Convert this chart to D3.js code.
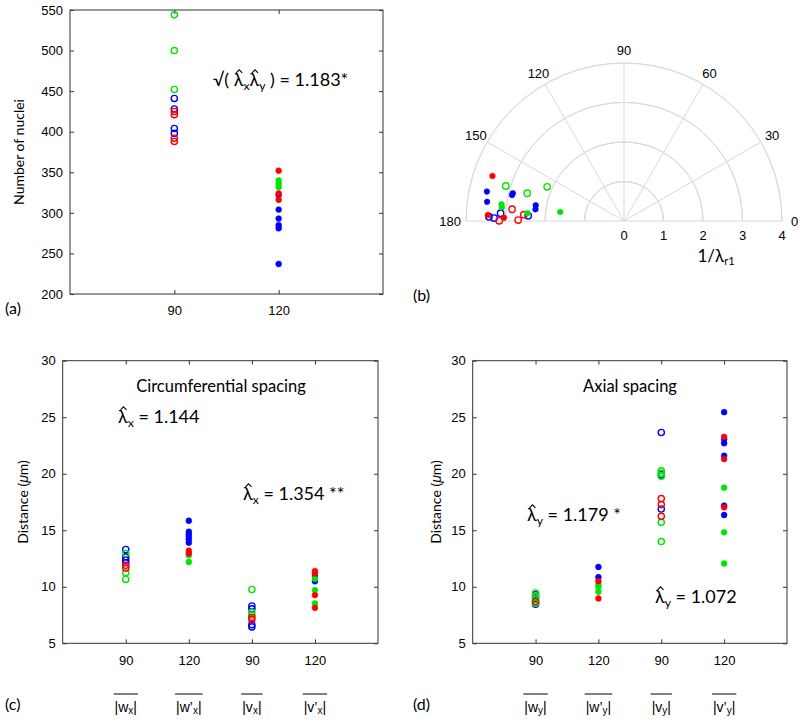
<!DOCTYPE html>
<html><head><meta charset="utf-8">
<script src="https://cdn.jsdelivr.net/npm/d3@7"></script>
<style>body{margin:0;background:#fff}svg{display:block}</style>
</head><body>
<svg id="chart" width="800" height="722"></svg>
<script>
// ---------- DATA ----------
const seriesNames = ["blue", "green", "red"];
// Panel (a): number of nuclei, open = 90, filled = 120
const nucleiCats = [90, 120];
const nucleiTicks = [200, 250, 300, 350, 400, 450, 500, 550];
const nucleiBlue  = [[441, 428, 404, 398], [322, 304, 293, 285, 281, 237]];
const nucleiGreen = [[544, 500, 452], [340, 336, 332]];
const nucleiRed   = [[425, 421, 392, 388], [352, 324, 316]];

// Panel (b): polar [angle deg, 1/lambda_r1]
const polarOpenBlue   = [[178.2, 3.42], [178.7, 3.29], [176.4, 3.13], [176.8, 2.43]];
const polarOpenGreen  = [[163.5, 3.12], [164.0, 2.55], [156.0, 2.13]];
const polarOpenRed    = [[174.0, 2.85], [179.9, 3.16], [179.5, 2.68], [176.4, 2.54]];
const polarFillBlue   = [[167.9, 3.55], [172.0, 3.50], [166.9, 2.91], [166.0, 2.90], [169.9, 2.27], [172.5, 2.26]];
const polarFillGreen  = [[172.0, 1.63], [173.6, 3.11], [172.2, 3.13], [175.4, 2.45]];
const polarFillRed    = [[161.1, 3.52], [177.5, 3.45], [178.4, 3.04]];
const polarAngles = [0, 30, 60, 90, 120, 150, 180];
const polarRadii = [0, 1, 2, 3, 4];

// Panels (c), (d): spacing; categories 1..4
const spacingTickLabels = [90, 120, 90, 120];
const spacingOpen = [true, false, true, false];
const spacingYTicks = [5, 10, 15, 20, 25, 30];
const circLabels = [["w", "x", ""], ["w", "x", "’"], ["v", "x", ""], ["v", "x", "’"]];
const axLabels   = [["w", "y", ""], ["w", "y", "’"], ["v", "y", ""], ["v", "y", "’"]];
const circBlue  = [[13.3, 12.65, 12.36, 12.12], [15.84, 14.87, 14.64, 14.43, 14.2, 13.9], [8.3, 8.05, 6.65, 6.45], [10.95, 10.48]];
const circGreen = [[12.95, 11.24, 10.65], [12.78, 12.19], [9.76, 7.75, 7.5], [10.71, 9.71, 8.53]];
const circRed   = [[11.9, 11.65], [13.19, 12.95], [7.3, 7.1], [11.39, 11.19, 9.27, 8.14]];
const axBlue  = [[9.3, 9.0, 8.45], [11.75, 10.85], [23.65, 19.91, 16.88], [25.45, 23.06, 22.7, 21.59, 17.18, 16.35]];
const axGreen = [[9.45, 9.15, 8.85, 8.6, 8.55], [10.2, 10.0, 9.56], [20.26, 20.06, 19.77, 15.7, 14.0], [18.77, 14.82, 12.06]];
const axRed   = [[8.7], [10.5, 8.97], [17.8, 17.27, 16.23], [23.27, 21.3, 17.03]];

// ---------- STYLE ----------
const COL = {blue: "#0000ff", green: "#00e600", red: "#ff0000"};
const TICKFONT = "'Liberation Sans', Arial, sans-serif";
const TEXTFONT = "Lato, 'Open Sans', sans-serif";
const svg = d3.select("#chart");

function frameAxes(g, x, y, xTicks, xFmt, yTicks) {
  const [x0, x1] = x.range(), [y0, y1] = y.range();
  g.append("g").attr("transform", `translate(0,${y0})`)
    .call(d3.axisBottom(x).tickValues(xTicks).tickFormat(xFmt).tickSizeInner(-4).tickSizeOuter(0).tickPadding(12));
  g.append("g").attr("transform", `translate(0,${y1})`)
    .call(d3.axisTop(x).tickValues(xTicks).tickFormat("").tickSizeInner(-4).tickSizeOuter(0));
  g.append("g").attr("transform", `translate(${x0},0)`)
    .call(d3.axisLeft(y).tickValues(yTicks).tickSizeInner(-4).tickSizeOuter(0).tickPadding(7));
  g.append("g").attr("transform", `translate(${x1},0)`)
    .call(d3.axisRight(y).tickValues(yTicks).tickFormat("").tickSizeInner(-4).tickSizeOuter(0));
  g.selectAll(".domain").remove();
  g.selectAll(".tick text").filter(function() { return !this.textContent; }).remove();
  g.selectAll(".tick line").attr("stroke", "#333");
  g.selectAll(".tick text").attr("font-family", TICKFONT).attr("font-size", 13).attr("fill", "#000");
  g.append("rect").attr("x", x0).attr("y", y1).attr("width", x1 - x0).attr("height", y0 - y1)
    .attr("fill", "none").attr("stroke", "#333").attr("stroke-width", 1);
}

function dots(g, cx, cy, vals, color, open, r) {
  g.selectAll(null).data(vals).enter().append("circle")
    .attr("cx", cx).attr("cy", d => cy(d)).attr("r", open ? r : r - 0.2)
    .attr("fill", open ? "none" : color).attr("stroke", color).attr("stroke-width", open ? 1.4 : 0.6);
}

// lambda with a drawn hat; hats are added after layout
const hatQueue = [];
function lambdaHat(g, t, sub, size, baseY, dy0) {
  const l = t.append("tspan").attr("dy", dy0).text("λ");
  t.append("tspan").attr("font-size", size * 0.68).attr("dy", 4).text(sub);
  hatQueue.push([g, l, size, baseY]);
}
function drawHats() {
  hatQueue.forEach(([g, l, size, baseY]) => {
    const bb = l.node().getBBox();
    const cx = bb.x + bb.width / 2 + 0.5;
    const top = baseY - size * 0.9;
    g.append("path").attr("d", `M${cx - 3},${top + 3}L${cx},${top}L${cx + 3},${top + 3}`)
      .attr("fill", "none").attr("stroke", "#000").attr("stroke-width", 1.1);
  });
}

function ylabel(g, x, y, parts) {
  const t = g.append("text").attr("transform", `translate(${x},${y}) rotate(-90)`)
    .attr("text-anchor", "middle").attr("font-family", TEXTFONT).attr("font-size", 14);
  parts(t);
}

// ---------- PANEL (a) ----------
{
  const g = svg.append("g");
  const x = d3.scaleLinear([60, 150], [70, 383]);
  const y = d3.scaleLinear([200, 550], [294, 10]);
  frameAxes(g, x, y, nucleiCats, d3.format("d"), nucleiTicks);
  const groups = {blue: nucleiBlue, green: nucleiGreen, red: nucleiRed};
  nucleiCats.forEach((c, i) => {
    seriesNames.forEach(s => dots(g, x(c), y, groups[s][i], COL[s], i === 0, 3.1));
  });
  ylabel(g, 24, 152, t => t.text("Number of nuclei"));
  const t = g.append("text").attr("x", 213).attr("y", 86).attr("font-family", TEXTFONT).attr("font-size", 18);
  t.append("tspan").text("√( ");
  lambdaHat(g, t, "x", 18, 86, 0); lambdaHat(g, t, "y", 18, 86, -4);
  t.append("tspan").attr("dy", -4).text(" ) = 1.183*");
  g.append("text").attr("x", 5).attr("y", 314).attr("font-family", TEXTFONT).attr("font-size", 16).text("(a)");
}

// ---------- PANEL (b) ----------
{
  const g = svg.append("g");
  const cx = 624, cy = 221;
  const r = d3.scaleLinear([0, 4], [0, 158]);
  const pt = (a, v) => [cx + r(v) * Math.cos(a * Math.PI / 180), cy - r(v) * Math.sin(a * Math.PI / 180)];
  const arc = d3.arc().startAngle(-Math.PI / 2).endAngle(Math.PI / 2);
  polarRadii.filter(v => v > 0).forEach(v => {
    g.append("path").attr("transform", `translate(${cx},${cy})`)
      .attr("d", arc({innerRadius: r(v), outerRadius: r(v)}))
      .attr("fill", "none").attr("stroke", "#d9d9d9").attr("stroke-width", 1);
  });
  polarAngles.forEach(a => {
    const [px, py] = pt(a, 4);
    g.append("line").attr("x1", cx).attr("y1", cy).attr("x2", px).attr("y2", py)
      .attr("stroke", "#d9d9d9").attr("stroke-width", 1);
  });
  polarAngles.forEach(a => {
    const [px, py] = pt(a, 4.33);
    g.append("text").attr("x", a === 180 ? px + 8 : a === 0 ? px - 4 : px).attr("y", py + 5)
      .attr("text-anchor", a === 180 ? "end" : a === 0 ? "start" : "middle")
      .attr("font-family", TICKFONT).attr("font-size", 13).text(a);
  });
  polarRadii.forEach(v => {
    g.append("text").attr("x", cx + r(v)).attr("y", cy + 19).attr("text-anchor", "middle")
      .attr("font-family", TICKFONT).attr("font-size", 13).text(v);
  });
  const lab = g.append("text").attr("x", 716).attr("y", 262).attr("text-anchor", "middle")
    .attr("font-family", TEXTFONT).attr("font-size", 17);
  lab.append("tspan").text("1/λ");
  lab.append("tspan").attr("font-size", 11).attr("dy", 3).text("r1");
  const sets = [
    [polarOpenBlue, "blue", true], [polarOpenGreen, "green", true], [polarOpenRed, "red", true],
    [polarFillBlue, "blue", false], [polarFillGreen, "green", false], [polarFillRed, "red", false]
  ];
  sets.forEach(([data, s, open]) => {
    g.selectAll(null).data(data).enter().append("circle")
      .attr("cx", d => pt(d[0], d[1])[0]).attr("cy", d => pt(d[0], d[1])[1])
      .attr("r", open ? 3.2 : 2.8)
      .attr("fill", open ? "none" : COL[s]).attr("stroke", COL[s]).attr("stroke-width", open ? 1.4 : 0.6);
  });
  g.append("text").attr("x", 413).attr("y", 301).attr("font-family", TEXTFONT).attr("font-size", 16).text("(b)");
}

// ---------- PANELS (c), (d) ----------
function spacingPanel(x0, x1, blue, green, red, labels, title, titleX, notes, panelLab, labX, ylabX) {
  const g = svg.append("g");
  const x = d3.scaleLinear([0, 5], [x0, x1]);
  const y = d3.scaleLinear([5, 30], [643.3, 360.7]);
  const cats = [1, 2, 3, 4];
  frameAxes(g, x, y, cats, (d, i) => spacingTickLabels[i], spacingYTicks);
  const groups = {blue, green, red};
  cats.forEach((c, i) => {
    seriesNames.forEach(s => dots(g, x(c), y, groups[s][i], COL[s], spacingOpen[i], 3.1));
  });
  g.append("text").attr("x", titleX).attr("y", 392).attr("text-anchor", "middle")
    .attr("font-family", TEXTFONT).attr("font-size", 16.5).text(title);
  notes.forEach(([nx, ny, sub, rest]) => {
    const t = g.append("text").attr("x", nx).attr("y", ny).attr("font-family", TEXTFONT).attr("font-size", 18);
    lambdaHat(g, t, sub, 18, ny, 0);
    t.append("tspan").attr("dy", -4).text(rest);
  });
  ylabel(g, ylabX, 502, t => { t.append("tspan").text("Distance ("); t.append("tspan").attr("font-family", TICKFONT).attr("font-style", "italic").text("μ"); t.append("tspan").text("m)"); });
  cats.forEach((c, i) => {
    const [base, sub, prime] = labels[i];
    const t = g.append("text").attr("x", x(c)).attr("y", 712).attr("text-anchor", "middle")
      .attr("font-family", TICKFONT).attr("font-size", 14);
    t.append("tspan").text("|" + base + prime);
    t.append("tspan").attr("font-size", 10).attr("dy", 2).text(sub);
    t.append("tspan").attr("dy", -2).text("|");
    const bb = t.node().getBBox();
    g.append("line").attr("x1", bb.x - 1).attr("x2", bb.x + bb.width + 1)
      .attr("y1", 694).attr("y2", 694).attr("stroke", "#000").attr("stroke-width", 1);
  });
  g.append("text").attr("x", labX).attr("y", 710).attr("font-family", TEXTFONT).attr("font-size", 16).text(panelLab);
}

spacingPanel(62.7, 378, circBlue, circGreen, circRed, circLabels, "Circumferential spacing", 221,
  [[118, 423, "x", " = 1.144"], [243, 500, "x", " = 1.354 **"]], "(c)", 5, 28);
spacingPanel(472.7, 787, axBlue, axGreen, axRed, axLabels, "Axial spacing", 630,
  [[527, 521, "y", " = 1.179 *"], [655, 603, "y", " = 1.072"]], "(d)", 413, 441);
drawHats();
</script>
</body></html>
